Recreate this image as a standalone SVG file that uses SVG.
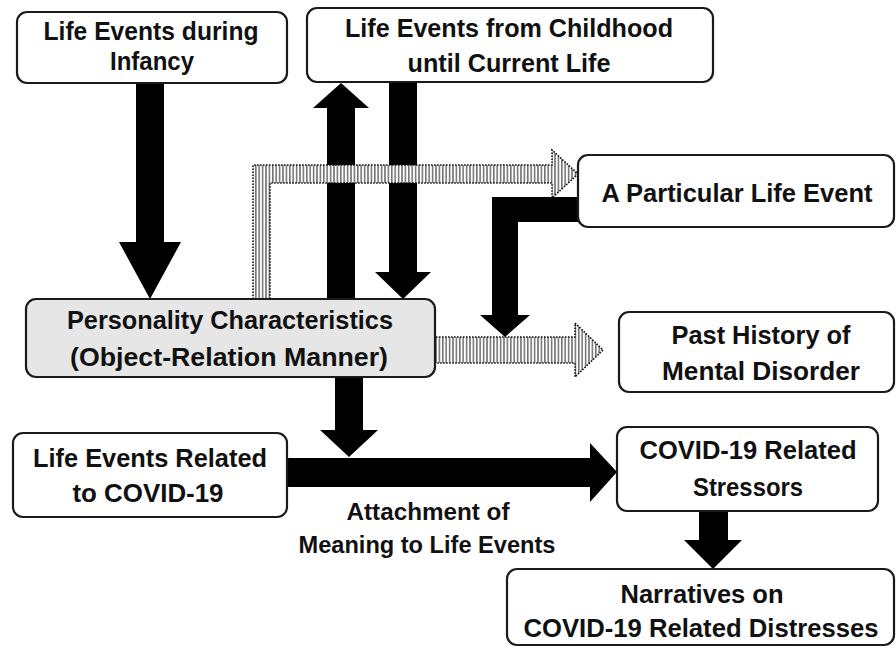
<svg xmlns="http://www.w3.org/2000/svg" width="896" height="649" viewBox="0 0 896 649">
<style>
.box{fill:#ffffff;stroke:#1a1a1a;stroke-width:2.2}
.gray{fill:#e6e6e6}
.t{font-family:"Liberation Sans",Arial,sans-serif;font-weight:bold;font-size:25px;fill:#111;text-anchor:middle}
.lbl{font-family:"Liberation Sans",Arial,sans-serif;font-weight:bold;font-size:23px;fill:#111;text-anchor:middle}
.solid{fill:#000;stroke:none}
.hatch{fill:url(#stripes);stroke:#111;stroke-width:1.6;stroke-dasharray:1.6 1.4}
</style>
<defs>
<pattern id="stripes" patternUnits="userSpaceOnUse" width="3.4" height="10">
<rect width="3.4" height="10" fill="#fff"/>
<line x1="0.8" y1="0" x2="0.8" y2="10" stroke="#555" stroke-width="1.3"/>
</pattern>
</defs>
<rect width="896" height="649" fill="#fff"/>
<g id="connectors">
<polygon class="solid" points="136,83 164,83 164,242 181,242 150,299 119,242 136,242"/>
<polygon class="solid" points="327,299 327,108 313,108 341,83 369,108 355,108 355,299"/>
<polygon class="solid" points="389,82 417,82 417,272 431,272 403,299 375,272 389,272"/>
<path class="hatch" d="M253,299 L253,165 L552,165 L552,150 L578,174 L552,198 L552,183 L270,183 L270,299"/>
<path class="hatch" d="M436,337 L575,337 L575,323 L603,350 L575,377 L575,363 L436,363"/>
<polygon class="solid" points="580,197 492,197 492,315 480,315 505,337 530,315 518,315 518,222 580,222"/>
<polygon class="solid" points="335,377 363,377 363,430 378,430 349,457 320,430 335,430"/>
<polygon class="solid" points="287,458 590,458 590,443 617,472 590,502 590,487 287,487"/>
<polygon class="solid" points="699,511 728,511 728,540 742,540 713,569 684,540 699,540"/>
<text class="lbl" x="428" y="520" textLength="163" lengthAdjust="spacingAndGlyphs">Attachment of</text>
<text class="lbl" x="427" y="553" textLength="257" lengthAdjust="spacingAndGlyphs">Meaning to Life Events</text>
</g>
<g id="infancy">
<rect class="box" x="17" y="12" width="270" height="71" rx="10"/>
<text class="t" x="151" y="40" textLength="215" lengthAdjust="spacingAndGlyphs">Life Events during</text>
<text class="t" x="152" y="70" textLength="84" lengthAdjust="spacingAndGlyphs">Infancy</text>
</g>
<g id="childhood">
<rect class="box" x="307" y="8" width="406" height="74" rx="10"/>
<text class="t" x="509" y="37" textLength="328" lengthAdjust="spacingAndGlyphs">Life Events from Childhood</text>
<text class="t" x="509" y="72" textLength="203" lengthAdjust="spacingAndGlyphs">until Current Life</text>
</g>
<g id="particular">
<rect class="box" x="578" y="155" width="316" height="72" rx="10"/>
<text class="t" x="737" y="202" textLength="271" lengthAdjust="spacingAndGlyphs">A Particular Life Event</text>
</g>
<g id="past">
<rect class="box" x="619" y="312" width="275" height="80" rx="10"/>
<text class="t" x="761" y="344" textLength="179" lengthAdjust="spacingAndGlyphs">Past History of</text>
<text class="t" x="761" y="380" textLength="198" lengthAdjust="spacingAndGlyphs">Mental Disorder</text>
</g>
<g id="personality">
<rect class="box gray" x="26" y="299" width="409" height="78" rx="10"/>
<text class="t" x="230" y="329" textLength="326" lengthAdjust="spacingAndGlyphs">Personality Characteristics</text>
<text class="t" x="229" y="366" textLength="318" lengthAdjust="spacingAndGlyphs">(Object-Relation Manner)</text>
</g>
<g id="covid-events">
<rect class="box" x="13" y="433" width="274" height="84" rx="10"/>
<text class="t" x="150" y="467" textLength="234" lengthAdjust="spacingAndGlyphs">Life Events Related</text>
<text class="t" x="148" y="502" textLength="151" lengthAdjust="spacingAndGlyphs">to COVID-19</text>
</g>
<g id="stressors">
<rect class="box" x="617" y="427" width="261" height="84" rx="10"/>
<text class="t" x="748" y="459" textLength="217" lengthAdjust="spacingAndGlyphs">COVID-19 Related</text>
<text class="t" x="748" y="496" textLength="110" lengthAdjust="spacingAndGlyphs">Stressors</text>
</g>
<g id="narratives">
<rect class="box" x="507" y="569" width="387" height="76" rx="10"/>
<text class="t" x="702" y="603" textLength="163" lengthAdjust="spacingAndGlyphs">Narratives on</text>
<text class="t" x="701" y="637" textLength="355" lengthAdjust="spacingAndGlyphs">COVID-19 Related Distresses</text>
</g>
</svg>
